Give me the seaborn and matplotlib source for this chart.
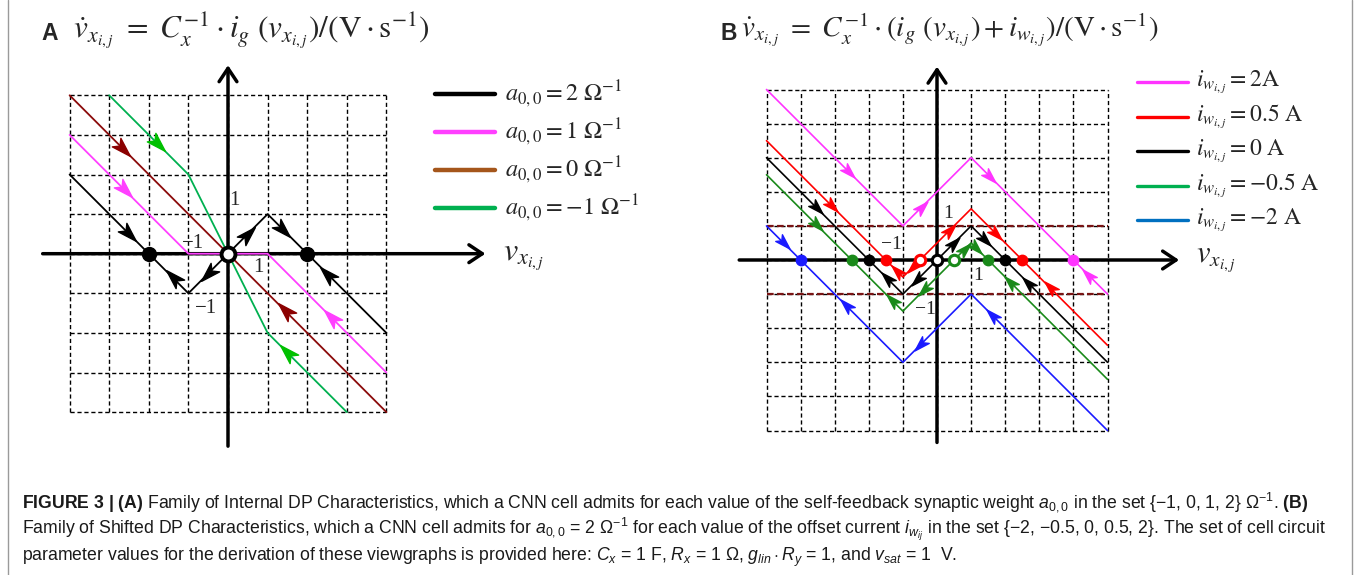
import matplotlib
matplotlib.use("Agg")
import matplotlib.pyplot as plt
import seaborn as sns
from matplotlib.markers import MarkerStyle
from matplotlib.path import Path
from matplotlib.transforms import Affine2D
from matplotlib.lines import Line2D

# ---------------------------------------------------------------- data
# Panel A: internal DP characteristics (vertices of piecewise-linear curves)
a_labels = [r"$a_{0,0} = 2\ \Omega^{-1}$", r"$a_{0,0} = 1\ \Omega^{-1}$",
            r"$a_{0,0} = 0\ \Omega^{-1}$", r"$a_{0,0} = -1\ \Omega^{-1}$"]
a_v = [[-4, -1, 1, 4], [-4, -1, 1, 4], [-4, 4], [-3, -1, 1, 3]]
a_dv = [[2, -1, 1, -2], [3, 0, 0, -3], [4, -4], [4, 2, -2, -4]]

# flow arrows on panel A curves: position and heading (degrees)
a_arrow_v = [[-2.5, -1.4, -0.5, 0.5, 1.4, 2.5], [-2.6, 2.6], [-2.65, 1.43], [-1.78, 1.48]]
a_arrow_dv = [[0.5, -0.6, -0.5, 0.5, 0.6, -0.5], [1.6, -1.6], [2.65, -1.43], [2.78, -2.48]]
a_arrow_dir = [[-45, 135, -135, 45, -45, 135], [-45, 135], [-45, 135], [-45, 135]]

# equilibrium points of panel A
a_eq_stable_v = [-2, 2]
a_eq_unstable_v = [0]

# Panel B: shifted DP characteristics for a_{0,0} = 2
b_labels = [r"$i_{w_{i,j}} = 2\mathrm{A}$", r"$i_{w_{i,j}} = 0.5\ \mathrm{A}$",
            r"$i_{w_{i,j}} = 0\ \mathrm{A}$", r"$i_{w_{i,j}} = -0.5\ \mathrm{A}$",
            r"$i_{w_{i,j}} = -2\ \mathrm{A}$"]
b_v = [-5, -1, 1, 5]
b_dv = [[5, 1, 3, -1], [3.5, -0.5, 1.5, -2.5], [3, -1, 1, -3],
        [2.5, -1.5, 0.5, -3.5], [1, -3, -1, -5]]

b_arrow_v = [[-2.59, -0.44, 1.56, 4.44],
             [-3.07, -1.17, -0.70, 0.37, 1.74, 3.30],
             [-3.53, -1.46, -0.60, 0.51, 1.40, 2.68],
             [-3.53, -1.32, -0.39, 0.81, 1.15, 2.15],
             [-4.50, -2.68, -0.49, 1.60]]
b_arrow_dv = [[2.59, 1.56, 2.44, -0.44],
              [1.57, -0.33, -0.20, 0.87, 0.76, -0.80],
              [1.53, -0.54, -0.60, 0.51, 0.60, -0.68],
              [1.03, -1.18, -0.89, 0.31, 0.35, -0.65],
              [0.50, -1.32, -2.49, -1.60]]
b_arrow_dir = [[-45, 45, -45, 135],
               [-45, 135, -135, 45, -45, 135],
               [-45, 135, -135, 45, -45, 135],
               [-45, 135, -135, 45, -45, 135],
               [-45, 135, -135, 135]]

b_eq_stable_v = [[4], [-1.5, 2.5], [-2, 2], [-2.5, 1.5], [-4]]
b_eq_unstable_v = [[], [-0.5], [0], [0.5], []]
b_sat_levels = [1, -1]

# ---------------------------------------------------------------- style
a_line_colors = ["#000000", "#FF40FF", "#8B0A0A", "#00B050"]
a_arrow_colors = ["#000000", "#FF40FF", "#8B0000", "#00C000"]
a_legend_colors = ["#000000", "#FF40FF", "#A5561B", "#00B050"]
b_line_colors = ["#FF33FF", "#FF0000", "#000000", "#1A8A1A", "#1A1AFF"]
b_legend_colors = ["#FF33FF", "#FF0000", "#000000", "#00B050", "#0070C0"]

sns.set_theme(style="white")
plt.rcParams["font.family"] = ["Liberation Sans", "DejaVu Sans"]
plt.rcParams["mathtext.fontset"] = "custom"
plt.rcParams["mathtext.rm"] = "Liberation Sans"
plt.rcParams["mathtext.it"] = "Liberation Sans:italic"
plt.rcParams["mathtext.bf"] = "Liberation Sans:bold"

W, H = 1356, 575
fig = plt.figure(figsize=(W / 100, H / 100), dpi=100)


def fx(px):
    return px / W


def fy(py):
    return 1 - py / H


def arrow_marker(angle):
    verts = [(1, 0), (-1, 0.62), (-0.5, 0), (-1, -0.62), (1, 0)]
    codes = [Path.MOVETO, Path.LINETO, Path.LINETO, Path.LINETO, Path.CLOSEPOLY]
    return MarkerStyle(Path(verts, codes), transform=Affine2D().rotate_deg(angle))


def make_axes(origin, unit, xlim, ylim):
    ox, oy = origin
    left = ox + xlim[0] * unit
    right = ox + xlim[1] * unit
    top = oy - ylim[1] * unit
    bottom = oy - ylim[0] * unit
    ax = fig.add_axes([fx(left), fy(bottom), (right - left) / W, (bottom - top) / H])
    ax.set_xlim(*xlim)
    ax.set_ylim(*ylim)
    ax.set_axis_off()
    return ax


def draw_grid(ax, n):
    ticks = list(range(-n, n + 1))
    ax.vlines(ticks, -n, n, colors="black", linestyles=(0, (3, 2)), lw=1.0, zorder=1)
    ax.hlines(ticks, -n, n, colors="black", linestyles=(0, (3, 2)), lw=1.0, zorder=1)


def draw_axes_arrows(ax, xspan, yspan):
    props = dict(arrowstyle="->,head_length=0.6,head_width=0.4", lw=2.5,
                 color="black", shrinkA=0, shrinkB=0, mutation_scale=16)
    ax.annotate("", xy=(xspan[1], 0), xytext=(xspan[0], 0), arrowprops=props, zorder=2)
    ax.annotate("", xy=(0, yspan[1]), xytext=(0, yspan[0]), arrowprops=props, zorder=2)


serif = ["Liberation Serif", "DejaVu Serif"]

# ---------------------------------------------------------------- panel A
axA = make_axes((228, 253.7), 39.6, (-5.8, 8.2), (-5.2, 5.2))
draw_grid(axA, 4)
draw_axes_arrows(axA, (-4.68, 6.5), (-4.86, 4.76))
for vs, dvs, c in zip(a_v, a_dv, a_line_colors):
    sns.lineplot(x=vs, y=dvs, sort=False, estimator=None, color=c, lw=1.3, ax=axA, zorder=3)
for vs, dvs, dirs, c in zip(a_arrow_v, a_arrow_dv, a_arrow_dir, a_arrow_colors):
    for v, dv, d in zip(vs, dvs, dirs):
        axA.plot([v], [dv], marker=arrow_marker(d), ms=14, color=c, mec=c, ls="none", zorder=5)
axA.plot(a_eq_stable_v, [0] * len(a_eq_stable_v), "o", ms=10, color="black", zorder=6)
axA.plot(a_eq_unstable_v, [0] * len(a_eq_unstable_v), "o", ms=10, mfc="white",
         mec="black", mew=2.8, zorder=6)
for s, x, y in [("1", 0.17, 1.34), ("\u22121", -0.89, 0.26), ("1", 0.76, -0.36), ("\u22121", -0.55, -1.39)]:
    axA.text(x, y, s, fontsize=15, family=serif, ha="center", va="center", zorder=7)

fig.text(fx(41), fy(33), "A", fontsize=16.5, fontweight="bold", ha="left", va="center")
fig.text(fx(73), fy(31),
         r"$\dot{v}_{x_{i,j}}\ =\ C_x^{-1}\cdot i_g\ (v_{x_{i,j}})/(\mathrm{V}\cdot \mathrm{s}^{-1})$",
         fontsize=22.5, math_fontfamily="stix", ha="left", va="center")
fig.text(fx(503), fy(257), r"$v_{x_{i,j}}$", fontsize=23, math_fontfamily="stix",
         ha="left", va="center")

for i, (lab, c) in enumerate(zip(a_labels, a_legend_colors)):
    yy = fy(94 + i * 38)
    fig.add_artist(Line2D([fx(435), fx(495)], [yy, yy], color=c, lw=3.2))
    fig.text(fx(505), yy, lab, fontsize=17.5, math_fontfamily="stix", ha="left", va="center")

# ---------------------------------------------------------------- panel B
axB = make_axes((937, 260), 34.1, (-6.5, 9.0), (-6.0, 6.0))
draw_grid(axB, 5)
axB.hlines(b_sat_levels, -5, 5, colors="#7A1414", linestyles=(0, (3, 1.5)), lw=1.6, zorder=2)
draw_axes_arrows(axB, (-5.8, 7.1), (-5.35, 5.67))
for dvs, c in zip(b_dv, b_line_colors):
    sns.lineplot(x=b_v, y=dvs, sort=False, estimator=None, color=c, lw=1.2, ax=axB, zorder=3)
for vs, dvs, dirs, c in zip(b_arrow_v, b_arrow_dv, b_arrow_dir, b_line_colors):
    for v, dv, d in zip(vs, dvs, dirs):
        axB.plot([v], [dv], marker=arrow_marker(d), ms=11, color=c, mec=c, ls="none", zorder=5)
for st, un, c in zip(b_eq_stable_v, b_eq_unstable_v, b_line_colors):
    if st:
        axB.plot(st, [0] * len(st), "o", ms=7.5, color=c, zorder=6)
    if un:
        axB.plot(un, [0] * len(un), "o", ms=7.5, mfc="white", mec=c, mew=2.2, zorder=6)
for s, x, y in [("1", 0.34, 1.37), ("\u22121", -1.35, 0.46), ("1", 1.22, -0.45), ("\u22121", -0.34, -1.46)]:
    axB.text(x, y, s, fontsize=14, family=serif, ha="center", va="center", zorder=7)

fig.text(fx(721), fy(33), "B", fontsize=16.5, fontweight="bold", ha="left", va="center")
fig.text(fx(741), fy(30),
         r"$\dot{v}_{x_{i,j}}\ =\ C_x^{-1}\cdot (i_g\ (v_{x_{i,j}}) + i_{w_{i,j}})/(\mathrm{V}\cdot \mathrm{s}^{-1})$",
         fontsize=21, math_fontfamily="stix", ha="left", va="center")
fig.text(fx(1196), fy(260), r"$v_{x_{i,j}}$", fontsize=22, math_fontfamily="stix",
         ha="left", va="center")

for i, (lab, c) in enumerate(zip(b_labels, b_legend_colors)):
    yy = fy(82 + i * 34.5)
    fig.add_artist(Line2D([fx(1137), fx(1188)], [yy, yy], color=c, lw=2.4))
    fig.text(fx(1196), yy, lab, fontsize=17, math_fontfamily="stix", ha="left", va="center")

# ---------------------------------------------------------------- caption
fig.add_artist(Line2D([fx(8), fx(8)], [0, 1], color="#9A9A9A", lw=1.0))
fig.add_artist(Line2D([fx(1352), fx(1352)], [0, 1], color="#9A9A9A", lw=1.0))

cap = [
    r"$\mathbf{FIGURE\ 3\ |\ (A)}$ Family of Internal DP Characteristics, which a CNN cell admits for "
    r"each value of the self-feedback synaptic weight $a_{0,0}$ in the set {\u22121, 0, 1, 2} "
    r"$\Omega^{-1}$. $\mathbf{(B)}$",
    r"Family of Shifted DP Characteristics, which a CNN cell admits for $a_{0,0}$ = 2 $\Omega^{-1}$ "
    r"for each value of the offset current $i_{w_{ij}}$ in the set {\u22122, \u22120.5, 0, 0.5, 2}. "
    r"The set of cell circuit",
    r"parameter values for the derivation of these viewgraphs is provided here: $C_x$ = 1 F, "
    r"$R_x$ = 1 $\Omega$, $g_{lin}\cdot R_y$ = 1, and $v_{sat}$ = 1  V.",
]
cap = [c.replace(r"\u2212", "\u2212") for c in cap]
for i, line in enumerate(cap):
    fig.text(fx(22), fy(502 + i * 27.5), line, fontsize=12.7, color="#1a1a1a",
             ha="left", va="center")

fig.savefig("out.png", dpi=100)
